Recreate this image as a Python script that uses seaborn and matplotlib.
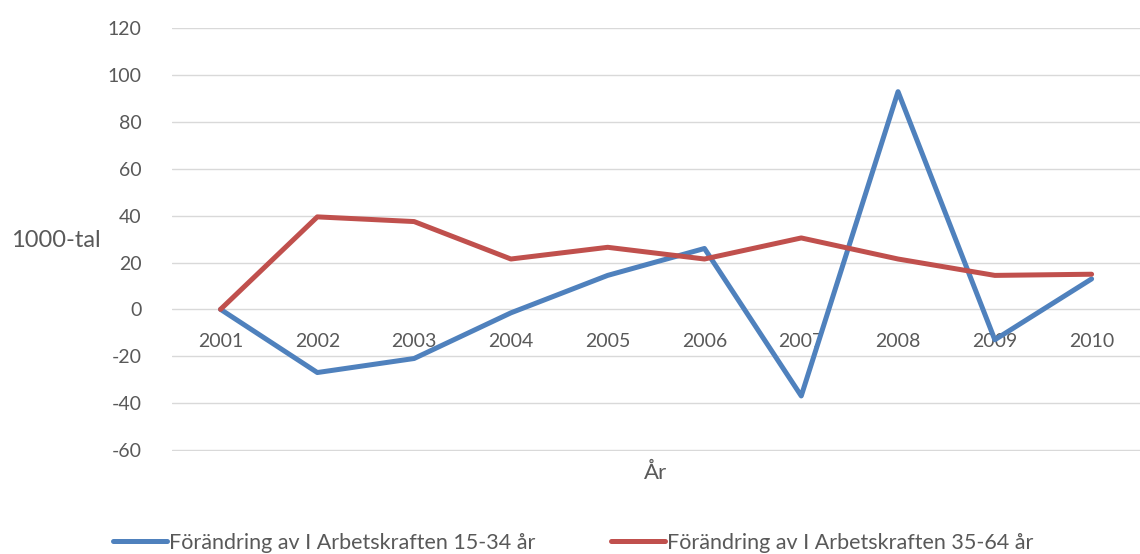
import pandas as pd
import numpy as np
import seaborn as sns
from matplotlib import pyplot as plt

# Data
ar = ['2001', '2002', '2003', '2004', '2005', '2006', '2007', '2008', '2009', '2010']
ung = [0, -27, -21, -1.5, 14.5, 26, -37, 93, -13, 13]
aldre = [0, 39.5, 37.5, 21.5, 26.5, 21.5, 30.5, 21.5, 14.5, 15]
serier = ['Förändring av I Arbetskraften 15-34 år', 'Förändring av I Arbetskraften 35-64 år']
farger = ['#4f81bd', '#c0504d']
yticks = [-60, -40, -20, 0, 20, 40, 60, 80, 100, 120]

df = pd.DataFrame({
    'År': ar * 2,
    'värde': ung + aldre,
    'serie': [serier[0]] * len(ar) + [serier[1]] * len(ar),
})

sns.set_style('white')
plt.rcParams['font.family'] = ['Lato', 'DejaVu Sans']
plt.rcParams['axes.unicode_minus'] = False
textfarg = '#595959'

fig = plt.figure(figsize=(11.4, 5.54), dpi=100)
ax = fig.add_axes([0.151, 0.186, 0.849, 0.7635])
sns.lineplot(data=df, x='År', y='värde', hue='serie', palette=farger,
             linewidth=3.6, ax=ax, legend=False)

ax.set_xlim(-0.5, len(ar) - 0.5)
ax.set_ylim(-60.5, 120.2)
ax.set_yticks(yticks)
ax.yaxis.grid(True, color='#d9d9d9', linewidth=1)
ax.set_axisbelow(True)
for s in ax.spines.values():
    s.set_visible(False)
ax.spines['bottom'].set_position(('data', 0))
ax.tick_params(axis='both', length=0, labelsize=14, colors=textfarg)
ax.tick_params(axis='x', pad=17)
ax.tick_params(axis='y', pad=22)

ax.set_xlabel('')
ax.set_ylabel('')
fig.text(0.049, 0.565, '1000-tal', fontsize=17, color=textfarg, ha='center', va='center')
fig.text(0.575, 0.147, 'År', fontsize=16, color=textfarg, ha='center', va='center')

handles = [plt.Line2D([], [], color=c, linewidth=3.6) for c in farger]
fig.legend(handles, serier, loc='center', bbox_to_anchor=(0.503, 0.02), ncol=2,
           frameon=False, fontsize=15.5, labelcolor=textfarg, handlelength=2.5,
           handletextpad=0.1, columnspacing=3.5)

fig.savefig('out.png', dpi=100)
